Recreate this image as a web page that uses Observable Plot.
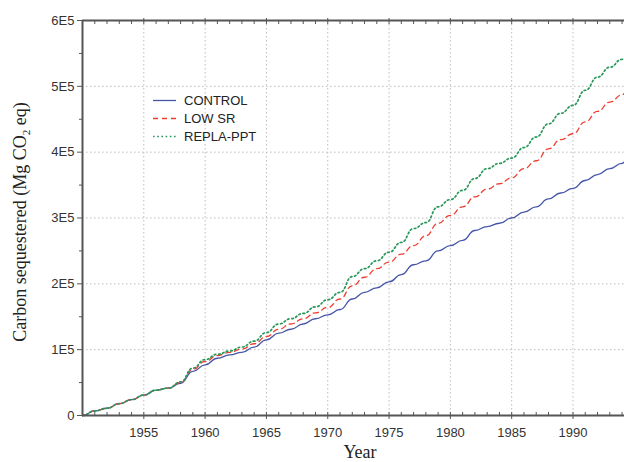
<!DOCTYPE html>
<html><head><meta charset="utf-8">
<script src="https://cdn.jsdelivr.net/npm/d3@7"></script>
<script src="https://cdn.jsdelivr.net/npm/@observablehq/plot@0.6"></script>
<style>body{margin:0;background:#fff;}</style>
</head><body><div id="chart"></div>
<script>
const years = [1950,1951,1952,1953,1954,1955,1956,1957,1958,1959,1960,1961,1962,1963,1964,1965,1966,1967,1968,1969,1970,1971,1972,1973,1974,1975,1976,1977,1978,1979,1980,1981,1982,1983,1984,1985,1986,1987,1988,1989,1990,1991,1992,1993,1994,1994.2];
const control = [0,7000,11000,18000,24000,31000,38500,41500,49000,67000,77000,87000,92000,96000,104000,115000,125000,131000,139000,147000,153000,161000,177000,187000,194000,203000,214000,229000,235000,250000,258000,266000,281000,287000,292000,300000,309000,317000,329000,338000,345000,357000,366000,375000,383000,385000];
const lowSR = [0,7000,11000,18000,24000,31000,38500,41500,50000,70000,82000,91000,96000,101000,109000,120000,131000,139000,147000,156000,164000,177000,197000,210000,223000,233000,245000,258000,273000,292000,304000,317000,332000,344000,352000,361000,375000,387000,405000,419000,428000,446000,462000,476000,487000,489000];
const replaPPT = [0,7000,11000,18000,24000,31000,38500,41500,51000,72000,85000,93000,98000,104000,113000,126000,139000,147000,155000,165000,176000,187000,211000,223000,235000,248000,263000,284000,293000,317000,328000,342000,360000,375000,383000,391000,407000,423000,443000,459000,471000,494000,514000,529000,541000,543000];
const seriesNames = ["CONTROL","LOW SR","REPLA-PPT"];
const seriesColors = ["#4556a8","#ef3e2f","#27985a"];
const seriesDash = [null,"5,4","1.6,2.6"];
const yTicks = [0,100000,200000,300000,400000,500000,600000];
const yTickLabels = ["0","1E5","2E5","3E5","4E5","5E5","6E5"];
const yMinor = [50000,150000,250000,350000,450000,550000];
const xTicks = [1955,1960,1965,1970,1975,1980,1985,1990];
const xMinor = d3.range(1951,1995);

const seriesValues = [control, lowSR, replaPPT];
const data = [];
seriesNames.forEach((s, k) => years.forEach((yr, i) => data.push({year: yr, value: seriesValues[k][i], series: s})));

const axisColor = "#555";
const plot = Plot.plot({
  width: 624, height: 462,
  marginLeft: 82, marginRight: 0, marginTop: 20, marginBottom: 47,
  style: {fontFamily: "'Liberation Sans', Arial, sans-serif", fontSize: "13px", color: "#333", background: "#fff"},
  x: {domain: [1950, 1994.2], label: null},
  y: {domain: [0, 600000], label: null},
  marks: [
    Plot.gridX(xTicks, {stroke: "#bdbdbd", strokeOpacity: 1, strokeDasharray: "1.5,2.5"}),
    Plot.gridY(yTicks.slice(1, -1), {stroke: "#bdbdbd", strokeOpacity: 1, strokeDasharray: "1.5,2.5"}),
    ...seriesNames.map((s, k) => Plot.line(data.filter(d => d.series === s), {
      x: "year", y: "value", stroke: seriesColors[k], strokeWidth: k === 2 ? 1.7 : 1.3,
      strokeDasharray: seriesDash[k], curve: "bump-x"
    })),
    Plot.ruleY([0], {stroke: axisColor, strokeWidth: 2}),
    Plot.ruleY([600000], {stroke: axisColor, strokeWidth: 2}),
    Plot.ruleX([1950], {stroke: axisColor, strokeWidth: 2}),
    Plot.axisX(xTicks, {anchor: "bottom", tickSize: 4, tickPadding: 8, tickFormat: d => String(d), stroke: axisColor, fill: "#333", fontSize: 13}),
    Plot.axisX(xMinor, {anchor: "bottom", tickSize: -3, text: null, stroke: axisColor}),
    Plot.axisX(xMinor, {anchor: "top", tickSize: -3, text: null, stroke: axisColor}),
    Plot.axisX(xTicks, {anchor: "top", tickSize: 3, text: null, stroke: axisColor}),
    Plot.axisY(yTicks, {anchor: "left", tickSize: 5, tickPadding: 3, tickFormat: (d, i) => yTickLabels[i], stroke: axisColor, fill: "#333", fontSize: 13}),
    Plot.axisY(yMinor, {anchor: "left", tickSize: 3, text: null, stroke: axisColor})
  ]
});
document.getElementById("chart").appendChild(plot);

const svg = d3.select(plot);
// Legend
const leg = svg.append("g").attr("text-anchor", "start");
seriesNames.forEach((s, k) => {
  const y = 100.5 + k * 18;
  leg.append("line").attr("x1", 153).attr("x2", 176).attr("y1", y).attr("y2", y)
    .attr("stroke", seriesColors[k]).attr("stroke-width", k === 2 ? 1.7 : 1.3)
    .attr("stroke-dasharray", seriesDash[k]);
  leg.append("text").attr("x", 184).attr("y", y).attr("dy", "0.35em").attr("text-anchor", "start")
    .attr("font-family", "'Liberation Sans', Arial, sans-serif").attr("font-size", 13)
    .attr("fill", "#222").text(s);
});
// Axis titles
svg.append("text").attr("x", 360).attr("y", 458).attr("text-anchor", "middle")
  .attr("font-family", "'Liberation Serif', 'Times New Roman', serif").attr("font-size", 18)
  .attr("fill", "#222").text("Year");
const yl = svg.append("text").attr("transform", "translate(26,222) rotate(-90)").attr("text-anchor", "middle")
  .attr("font-family", "'Liberation Serif', 'Times New Roman', serif").attr("font-size", 18).attr("fill", "#222");
yl.append("tspan").text("Carbon sequestered (Mg CO");
yl.append("tspan").attr("font-size", 11).attr("dy", 4).text("2");
yl.append("tspan").attr("dy", -4).text(" eq)");
</script>
</body></html>
